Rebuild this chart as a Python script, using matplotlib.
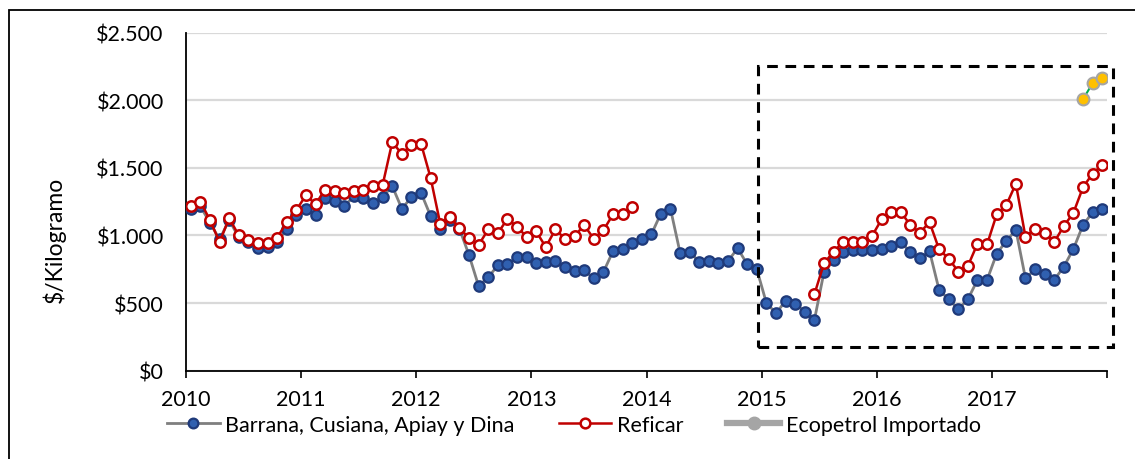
import numpy as np
import matplotlib
matplotlib.use("Agg")
import matplotlib.pyplot as plt
from matplotlib.lines import Line2D
from matplotlib.patches import Rectangle
from matplotlib.ticker import FuncFormatter

plt.rcParams["font.family"] = ["Lato", "DejaVu Sans"]

# Precios mensuales ene-2010 .. dic-2017 ($/kg)
years = [2010, 2011, 2012, 2013, 2014, 2015, 2016, 2017]
barrana = [
    1197, 1215, 1094, 970, 1115, 985, 955, 907, 914, 950, 1049, 1148,
    1192, 1153, 1278, 1251, 1216, 1290, 1278, 1236, 1285, 1364, 1197, 1283,
    1315, 1143, 1049, 1111, 1050, 855, 626, 690, 779, 786, 840, 840,
    799, 806, 813, 766, 737, 742, 683, 728, 882, 902, 941, 970,
    1007, 1162, 1197, 872, 880, 803, 810, 799, 810, 906, 786, 749,
    500, 425, 516, 495, 436, 374, 729, 818, 880, 892, 892, 890,
    902, 924, 951, 877, 830, 884, 597, 528, 455, 528, 671, 671,
    865, 958, 1042, 683, 749, 717, 671, 769, 900, 1077, 1170, 1194,
]
nan = np.nan
reficar = [
    1220, 1250, 1113, 951, 1128, 1000, 966, 946, 946, 983, 1098, 1187,
    1297, 1231, 1339, 1327, 1310, 1327, 1339, 1369, 1374, 1690, 1602, 1671,
    1678, 1425, 1086, 1135, 1057, 978, 929, 1044, 1015, 1123, 1064, 990,
    1030, 914, 1044, 976, 995, 1076, 976, 1037, 1155, 1160, 1209, nan,
    nan, nan, nan, nan, nan, nan, nan, nan, nan, nan, nan, nan,
    nan, nan, nan, nan, nan, 565, 793, 880, 951, 951, 951, 995,
    1118, 1172, 1175, 1076, 1020, 1098, 897, 828, 733, 774, 939, 934,
    1155, 1224, 1382, 990, 1049, 1020, 951, 1069, 1167, 1356, 1457, 1519,
]
ecopetrol = [nan] * 93 + [2007, 2125, 2160]

x = np.array([y + (m + 0.5) / 12 for y in years for m in range(12)])

fs = 15.5

fig = plt.figure(figsize=(11.35, 4.6), dpi=100)
ax = fig.add_axes([186 / 1135, 1 - 371.7 / 460, 921 / 1135, 338.2 / 460])

ax.plot(x, barrana, color="#7F7F7F", lw=2, marker="o", markersize=7.5,
        markerfacecolor="#3060B0", markeredgecolor="#1F3A7A", markeredgewidth=1.6,
        zorder=3)
ax.plot(x, reficar, color="#C00000", lw=1.8, marker="o", markersize=7.5,
        markerfacecolor="white", markeredgecolor="#C00000", markeredgewidth=1.8,
        zorder=4)
ax.plot(x, ecopetrol, color="#00B050", lw=1.5, marker="o", markersize=8.5,
        markerfacecolor="#FFC000", markeredgecolor="#A5A5A5", markeredgewidth=1.5,
        zorder=5)

# recuadro punteado
box = Rectangle((2014.97, 173), 3.08, 2081, fill=False, ls=(0, (3.5, 2.5)),
                lw=2.2, ec="black", clip_on=False, zorder=6)
ax.add_patch(box)

ax.set_xlim(2010, 2018)
ax.set_ylim(0, 2500)
ax.set_yticks(range(0, 2501, 500))
ax.yaxis.set_major_formatter(
    FuncFormatter(lambda v, p: "$" + f"{int(v):,}".replace(",", ".")))
ax.set_xticks(years + [2018])
ax.set_xticklabels([str(y) for y in years] + [""])
ax.tick_params(axis="y", length=0, pad=16, labelsize=fs)
ax.tick_params(axis="x", length=5, width=1.2, direction="out", pad=8, labelsize=fs)
ax.grid(axis="y", color="#D9D9D9", lw=1.6)
ax.set_axisbelow(True)
for s in ["top", "right"]:
    ax.spines[s].set_visible(False)
for s in ["left", "bottom"]:
    ax.spines[s].set_linewidth(1.3)
ax.set_ylabel("$/Kilogramo", fontsize=16.5)
ax.yaxis.set_label_coords(-0.131, 0.39)

handles = [
    Line2D([], [], color="#7F7F7F", lw=2, marker="o", markersize=7,
           markerfacecolor="#3060B0", markeredgecolor="#1F3A7A", markeredgewidth=1.6),
    Line2D([], [], color="#C00000", lw=1.8, marker="o", markersize=7,
           markerfacecolor="white", markeredgecolor="#C00000", markeredgewidth=1.8),
    Line2D([], [], color="#A5A5A5", lw=4.5, marker="o", markersize=9,
           markerfacecolor="#A5A5A5", markeredgecolor="#A5A5A5"),
]
labels = ["Barrana, Cusiana, Apiay y Dina", "Reficar", "Ecopetrol Importado"]
fig.legend(handles, labels, loc="center left", bbox_to_anchor=(167 / 1135, 1 - 426 / 460),
           ncol=3, frameon=False, fontsize=fs, handlelength=2.45, handletextpad=0.25,
           columnspacing=2.05, borderpad=0, borderaxespad=0)

# marco exterior
fig.patches.append(Rectangle((9 / 1135, -0.2), 1.2, 0.976 + 0.2, transform=fig.transFigure,
                             fill=False, ec="black", lw=1.3))

fig.savefig("out.png", dpi=100)
